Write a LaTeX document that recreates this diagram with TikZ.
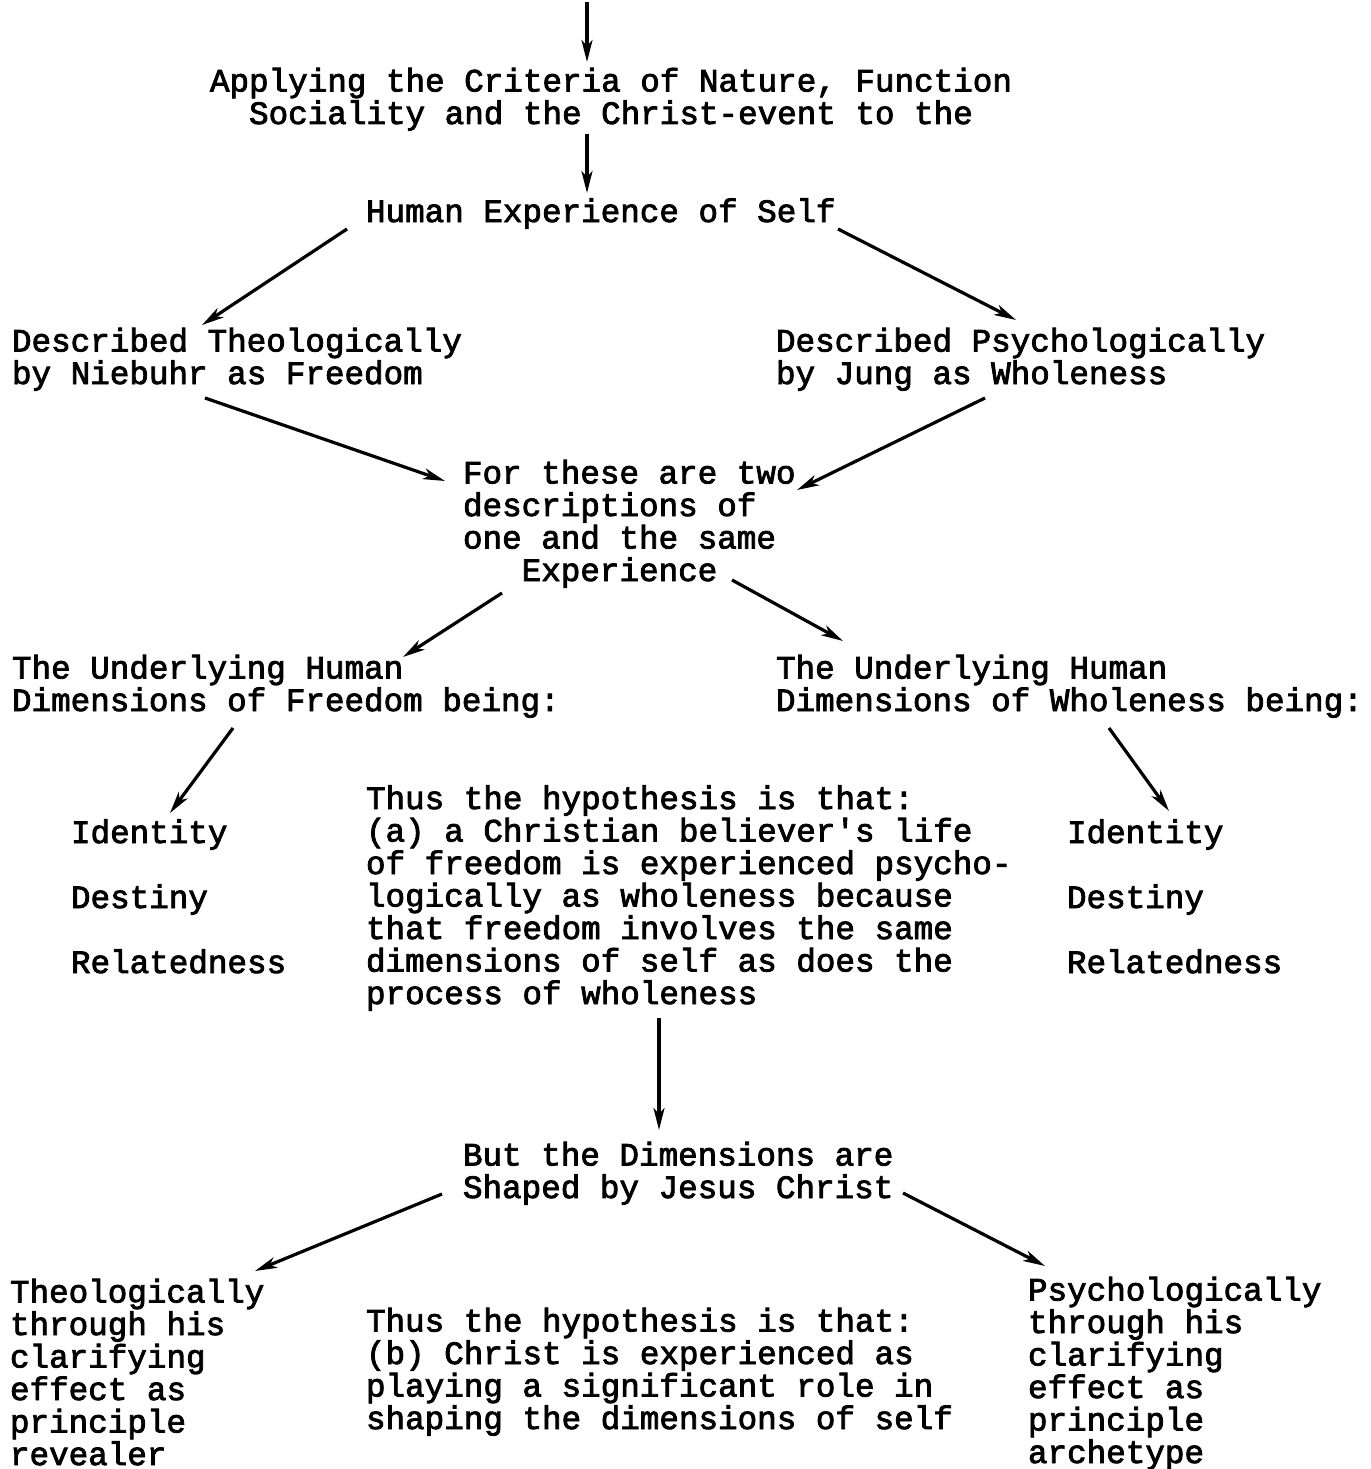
\documentclass[tikz,border=0pt]{standalone}
\usepackage{fontspec}
\setmonofont[FakeBold=2.5]{Liberation Mono}
\usetikzlibrary{arrows.meta}
\tikzset{
  txt/.style={inner sep=0pt, outer sep=0pt, align=left, anchor=base west,
    font=\ttfamily\fontsize{32.6}{32.5}\selectfont},
  arr/.style={line width=3.2pt, -{Stealth[length=22pt,width=11pt,inset=6pt]}}
}
\begin{document}
\begin{tikzpicture}[x=1pt,y=-1pt]
\useasboundingbox (0,0) rectangle (1370,1469);
% text blocks (anchor = baseline of the last line)
\node[txt, align=center, anchor=base] (apply) at (611,124) {Applying the Criteria of Nature, Function\\Sociality and the Christ-event to the};
\node[txt] (human) at (366,222) {Human Experience of Self};
\node[txt] (theo) at (12,384) {Described Theologically\\by Niebuhr as Freedom};
\node[txt] (psych) at (776,384) {Described Psychologically\\by Jung as Wholeness};
\node[txt] (same) at (463,581) {For these are two\\descriptions of\\one and the same\\\hspace*{1.8em}Experience};
\node[txt] (ufree) at (12,711) {The Underlying Human\\Dimensions of Freedom being:};
\node[txt] (uwhole) at (776,711) {The Underlying Human\\Dimensions of Wholeness being:};
\node[txt] (ldims) at (71,973) {Identity\\[32.5pt]Destiny\\[32.5pt]Relatedness};
\node[txt] (rdims) at (1067,973) {Identity\\[32.5pt]Destiny\\[32.5pt]Relatedness};
\node[txt] (hypa) at (366,1004) {Thus the hypothesis is that:\\(a) a Christian believer's life\\of freedom is experienced psycho-\\logically as wholeness because\\that freedom involves the same\\dimensions of self as does the\\process of wholeness};
\node[txt] (but) at (463,1198) {But the Dimensions are\\Shaped by Jesus Christ};
\node[txt] (ltheo) at (10,1465) {Theologically\\through his\\clarifying\\effect as\\principle\\revealer};
\node[txt] (hypb) at (366,1429) {Thus the hypothesis is that:\\(b) Christ is experienced as\\playing a significant role in\\shaping the dimensions of self};
\node[txt] (rpsych) at (1028,1463) {Psychologically\\through his\\clarifying\\effect as\\principle\\archetype};
% connector end points
\coordinate (in0) at (587,2);
\coordinate (a0) at (587,62);
\coordinate (a1s) at (587,134);
\coordinate (a1e) at (587,193);
\coordinate (a2s) at (347,229);
\coordinate (a2e) at (202,325);
\coordinate (a3s) at (838,229);
\coordinate (a3e) at (1016,320);
\coordinate (a4s) at (205,398);
\coordinate (a4e) at (445,481);
\coordinate (a5s) at (985,398);
\coordinate (a5e) at (797,490);
\coordinate (a6s) at (502,593);
\coordinate (a6e) at (403,657);
\coordinate (a7s) at (732,580);
\coordinate (a7e) at (843,641);
\coordinate (a8s) at (233,728);
\coordinate (a8e) at (170,813);
\coordinate (a9s) at (1109,728);
\coordinate (a9e) at (1169,811);
\coordinate (a10s) at (659,1018);
\coordinate (a10e) at (659,1130);
\coordinate (a11s) at (442,1194);
\coordinate (a11e) at (255,1271);
\coordinate (a12s) at (903,1193);
\coordinate (a12e) at (1045,1266);
% connectors
\draw[arr] (in0) -- (a0);
\draw[arr] (a1s) -- (a1e);
\draw[arr] (a2s) -- (a2e);
\draw[arr] (a3s) -- (a3e);
\draw[arr] (a4s) -- (a4e);
\draw[arr] (a5s) -- (a5e);
\draw[arr] (a6s) -- (a6e);
\draw[arr] (a7s) -- (a7e);
\draw[arr] (a8s) -- (a8e);
\draw[arr] (a9s) -- (a9e);
\draw[arr] (a10s) -- (a10e);
\draw[arr] (a11s) -- (a11e);
\draw[arr] (a12s) -- (a12e);
\end{tikzpicture}
\end{document}
